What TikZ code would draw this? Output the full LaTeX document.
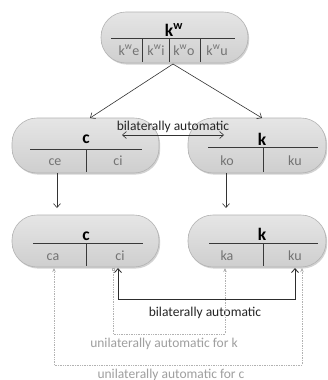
\documentclass[tikz,border=0pt]{standalone}
\usepackage{fontspec}
\setmainfont{Carlito}
\usetikzlibrary{arrows.meta,shadows,calc}
\begin{document}
\begin{tikzpicture}[x=1pt,y=-1pt,
  box/.style={draw=gray!60, line width=0.6pt, top color=gray!20, bottom color=gray!38,
    rectangle, rounded corners=25pt, inner sep=0pt,
    drop shadow={opacity=0.35, shadow xshift=1.2pt, shadow yshift=-1.6pt}},
  hdr/.style={font=\fontsize{17.5}{17.5}\selectfont\bfseries, text=black, anchor=base, inner sep=0pt},
  cell/.style={font=\fontsize{14}{14}\selectfont, text=gray!90!black, anchor=base, inner sep=0pt},
  lbl/.style={font=\fontsize{13.5}{13.5}\selectfont, anchor=base, inner sep=0pt},
  sep/.style={draw=gray!45!black, line width=0.9pt},
  arr/.style={-{Straight Barb[length=4pt,width=7pt]}, line width=0.6pt, draw=black!80},
  barr/.style={{Straight Barb[length=4pt,width=7pt]}-{Straight Barb[length=4pt,width=7pt]}, line width=0.6pt, draw=black!80},
  solid2/.style={{Straight Barb[length=4pt,width=7pt]}-{Straight Barb[length=4pt,width=7pt]}, line width=0.85pt, draw=gray!35!black},
  dotk/.style={{Square[open,length=2.5pt,width=2.5pt]}-{Stealth[length=4pt,width=3.5pt]}, densely dotted, line width=0.7pt, draw=gray!60},
  dotc/.style={{Stealth[length=4pt,width=3.5pt]}-{Stealth[length=4pt,width=3.5pt]}, densely dotted, line width=0.7pt, draw=gray!60}
]
\useasboundingbox[fill=white] (0,0) rectangle (328,380);

% boxes
\node[box, minimum width=147pt, minimum height=51pt] (top) at (174.5,37.5) {};
\node[box, minimum width=147pt, minimum height=55pt] (midL) at (85.5,145.5) {};
\node[box, minimum width=138pt, minimum height=55pt] (midR) at (257,145.5) {};
\node[box, minimum width=147pt, minimum height=52pt] (botL) at (85.5,241) {};
\node[box, minimum width=138pt, minimum height=52pt] (botR) at (257,241) {};

% top box contents
\node[hdr] (hT) at (174,36) {k\textsuperscript{w}};
\draw[sep] (111,38) -- (235,38);
\draw[sep] (142,38) -- (142,62);
\draw[sep] (169,38) -- (169,62);
\draw[sep] (200,38) -- (200,62);
\node[cell] (tE) at (129,55) {k\textsuperscript{w}e};
\node[cell] (tI) at (156,55) {k\textsuperscript{w}i};
\node[cell] (tO) at (184,55) {k\textsuperscript{w}o};
\node[cell] (tU) at (217,55) {k\textsuperscript{w}u};

% middle left
\node[hdr] (hML) at (86,143) {c};
\draw[sep] (30,149) -- (142,149);
\draw[sep] (86,149) -- (86,172);
\node[cell] (mce) at (55,165) {ce};
\node[cell] (mci) at (118,165) {ci};

% middle right
\node[hdr] (hMR) at (262,145) {k};
\draw[sep] (208,147) -- (318,147);
\draw[sep] (263,147) -- (263,172);
\node[cell] (mko) at (227,165) {ko};
\node[cell] (mku) at (295,165) {ku};

% bottom left
\node[hdr] (hBL) at (86,240) {c};
\draw[sep] (33,243) -- (143,243);
\draw[sep] (86,243) -- (86,266);
\node[cell] (bca) at (53,260) {ca};
\node[cell] (bci) at (120,260) {ci};

% bottom right
\node[hdr] (hBR) at (262,240) {k};
\draw[sep] (209,243) -- (318,243);
\draw[sep] (263,243) -- (263,266);
\node[cell] (bka) at (227,260) {ka};
\node[cell] (bku) at (295,260) {ku};

% labels
\node[lbl, text=black!85] (bil1) at (173,130) {bilaterally automatic};
\node[lbl, text=black!85] (bil2) at (205,316) {bilaterally automatic};
\node[lbl, text=gray!75] (unik) at (164,347) {unilaterally automatic for k};
\node[lbl, text=gray!75] (unic) at (171,378) {unilaterally automatic for c};

% coordinates
\coordinate (apex) at (173,64);
\coordinate (aL) at (90,118);
\coordinate (aR) at (262,118);
\coordinate (dL) at (122,135);
\coordinate (dR) at (224,135);
\coordinate (vL1) at (57,173);
\coordinate (vL2) at (57,208);
\coordinate (vR1) at (226,173);
\coordinate (vR2) at (226,208);
\coordinate (sA) at (118,268);
\coordinate (sB) at (118,299);
\coordinate (sC) at (295,299);
\coordinate (sD) at (295,268);
\coordinate (kA) at (113,268);
\coordinate (kB) at (113,334);
\coordinate (kC) at (225,334);
\coordinate (kD) at (225,268);
\coordinate (cA) at (54,268);
\coordinate (cB) at (54,365);
\coordinate (cC) at (302,365);
\coordinate (cD) at (302,268);

% connectors
\draw[arr] (apex) -- (aL);
\draw[arr] (apex) -- (aR);
\draw[barr] (dL) -- (dR);
\draw[arr] (vL1) -- (vL2);
\draw[arr] (vR1) -- (vR2);
\draw[dotc] (cA) -- (cB) -- (cC) -- (cD);
\draw[dotk] (kA) -- (kB) -- (kC) -- (kD);
\draw[solid2] (sA) -- (sB) -- (sC) -- (sD);
\end{tikzpicture}
\end{document}
